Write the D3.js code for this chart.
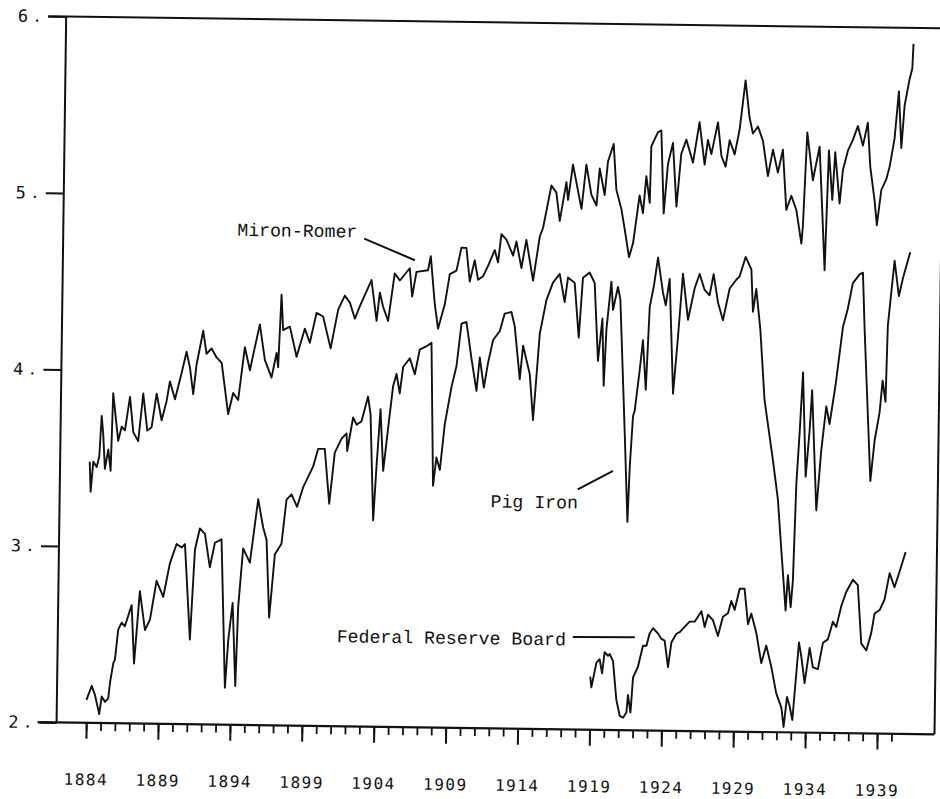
<!DOCTYPE html>
<html>
<head>
<meta charset="utf-8">
<script src="https://cdn.jsdelivr.net/npm/d3@7"></script>
<style>
  html, body { margin: 0; padding: 0; background: #fff; }
  svg { display: block; }
</style>
</head>
<body>
<div id="chart"></div>
<script>
// Log levels of three industrial production series
// (each point is [year, log level])
const mironRomer = [
  [1884.00,3.48],[1884.09,3.31],[1884.25,3.48],[1884.49,3.45],[1884.66,3.51],[1884.79,3.74],[1884.91,3.64],[1885.06,3.44],
  [1885.28,3.55],[1885.46,3.43],[1885.57,3.87],[1885.96,3.60],[1886.19,3.68],[1886.42,3.66],[1886.74,3.85],[1887.00,3.65],
  [1887.35,3.60],[1887.66,3.87],[1887.97,3.66],[1888.27,3.68],[1888.59,3.87],[1888.96,3.72],[1889.29,3.83],[1889.50,3.94],
  [1889.87,3.84],[1890.31,3.99],[1890.63,4.11],[1890.88,4.02],[1891.13,3.87],[1891.34,4.04],[1891.77,4.23],[1892.02,4.10],
  [1892.37,4.13],[1892.72,4.08],[1893.08,4.05],[1893.58,3.76],[1893.91,3.88],[1894.26,3.84],[1894.68,4.14],[1895.05,4.01],
  [1895.37,4.14],[1895.70,4.27],[1896.08,4.07],[1896.56,3.97],[1896.89,4.11],[1897.01,4.03],[1897.18,4.44],[1897.32,4.24],
  [1897.79,4.26],[1898.28,4.09],[1898.83,4.25],[1899.19,4.17],[1899.63,4.34],[1900.09,4.32],[1900.64,4.14],[1901.13,4.36],
  [1901.58,4.44],[1901.94,4.40],[1902.30,4.31],[1902.63,4.38],[1903.42,4.53],[1903.81,4.30],[1904.01,4.46],[1904.25,4.38],
  [1904.61,4.30],[1905.03,4.57],[1905.39,4.53],[1906.07,4.60],[1906.26,4.44],[1906.54,4.58],[1907.34,4.59],[1907.52,4.67],
  [1907.84,4.40],[1908.09,4.26],[1908.54,4.40],[1908.86,4.57],[1909.32,4.59],[1909.64,4.72],[1909.99,4.72],[1910.25,4.53],
  [1910.58,4.65],[1910.83,4.54],[1911.17,4.56],[1911.51,4.62],[1911.96,4.71],[1912.20,4.64],[1912.41,4.80],[1912.76,4.77],
  [1913.24,4.68],[1913.46,4.76],[1913.83,4.61],[1914.15,4.77],[1914.65,4.54],[1915.08,4.79],[1915.30,4.84],[1915.84,5.08],
  [1916.19,5.04],[1916.45,4.88],[1916.88,5.10],[1917.01,5.00],[1917.32,5.20],[1917.95,4.95],[1918.25,5.20],[1918.63,5.03],
  [1918.99,4.97],[1919.18,5.18],[1919.55,5.03],[1919.75,5.22],[1920.13,5.32],[1920.36,5.06],[1920.73,4.95],[1920.97,4.84],
  [1921.30,4.68],[1921.57,4.76],[1921.98,5.03],[1922.23,4.93],[1922.43,5.14],[1922.69,4.99],[1922.75,5.31],[1923.20,5.39],
  [1923.43,5.40],[1923.67,4.93],[1923.92,5.21],[1924.25,5.33],[1924.55,4.97],[1924.84,5.27],[1925.18,5.35],[1925.66,5.22],
  [1926.08,5.45],[1926.47,5.21],[1926.68,5.35],[1926.93,5.27],[1927.36,5.45],[1927.63,5.26],[1927.93,5.20],[1928.19,5.35],
  [1928.55,5.27],[1928.87,5.41],[1929.24,5.69],[1929.55,5.48],[1929.80,5.39],[1930.14,5.43],[1930.50,5.35],[1930.88,5.15],
  [1931.21,5.30],[1931.57,5.17],[1931.90,5.30],[1932.19,4.96],[1932.53,5.04],[1932.89,4.96],[1933.27,4.77],[1933.36,4.87],
  [1933.58,5.40],[1934.01,5.13],[1934.45,5.32],[1934.69,4.96],[1934.91,4.62],[1935.10,5.30],[1935.38,5.02],[1935.54,5.29],
  [1935.89,5.00],[1936.09,5.19],[1936.42,5.30],[1936.75,5.36],[1937.09,5.44],[1937.46,5.33],[1937.78,5.46],[1937.99,5.21],
  [1938.32,5.02],[1938.50,4.88],[1938.78,5.08],[1939.11,5.14],[1939.33,5.21],[1939.65,5.37],[1939.91,5.64],[1940.13,5.32],
  [1940.32,5.56],[1940.64,5.71],[1940.82,5.77],[1940.88,5.91]
];

const pigIron = [
  [1884.00,2.13],[1884.35,2.21],[1884.58,2.16],[1884.90,2.05],[1885.05,2.15],[1885.29,2.12],[1885.51,2.14],[1885.62,2.23],
  [1885.83,2.34],[1885.94,2.36],[1886.14,2.53],[1886.37,2.57],[1886.60,2.55],[1887.05,2.67],[1887.27,2.34],[1887.61,2.75],
  [1888.00,2.53],[1888.34,2.59],[1888.76,2.81],[1889.24,2.72],[1889.67,2.91],[1890.12,3.02],[1890.47,3.00],[1890.70,3.02],
  [1891.13,2.48],[1891.40,2.99],[1891.72,3.11],[1892.08,3.08],[1892.45,2.89],[1892.78,3.03],[1893.24,3.05],[1893.61,2.21],
  [1893.80,2.48],[1894.07,2.69],[1894.33,2.22],[1894.46,2.67],[1894.75,3.00],[1895.23,2.92],[1895.75,3.28],[1896.12,3.12],
  [1896.37,3.05],[1896.62,2.61],[1896.96,2.97],[1897.41,3.03],[1897.72,3.28],[1898.06,3.31],[1898.46,3.24],[1898.86,3.35],
  [1899.54,3.47],[1899.87,3.57],[1900.33,3.57],[1900.69,3.26],[1901.03,3.55],[1901.49,3.63],[1901.83,3.66],[1901.89,3.56],
  [1902.27,3.75],[1902.52,3.71],[1902.86,3.73],[1903.29,3.87],[1903.48,3.77],[1903.76,3.17],[1903.94,3.47],[1904.17,3.80],
  [1904.41,3.45],[1904.71,3.69],[1905.02,3.93],[1905.25,4.00],[1905.49,3.89],[1905.70,4.04],[1906.16,4.09],[1906.52,4.00],
  [1906.84,4.14],[1907.31,4.16],[1907.65,4.18],[1907.89,3.37],[1908.10,3.53],[1908.35,3.46],[1908.65,3.72],[1909.08,3.93],
  [1909.41,4.05],[1909.72,4.29],[1910.06,4.30],[1910.45,4.09],[1910.82,3.91],[1911.02,4.10],[1911.33,3.93],[1911.60,4.07],
  [1911.93,4.20],[1912.38,4.25],[1912.71,4.35],[1913.18,4.36],[1913.42,4.28],[1913.82,3.98],[1914.02,4.17],[1914.51,4.01],
  [1914.78,3.75],[1915.17,4.24],[1915.60,4.43],[1916.04,4.53],[1916.50,4.58],[1916.87,4.42],[1917.08,4.56],[1917.55,4.53],
  [1917.88,4.22],[1918.12,4.56],[1918.58,4.59],[1918.94,4.53],[1919.24,4.09],[1919.51,4.33],[1919.66,3.95],[1919.80,4.27],
  [1920.10,4.54],[1920.24,4.38],[1920.56,4.51],[1920.74,4.44],[1921.16,3.70],[1921.44,3.18],[1921.55,3.49],[1921.73,3.78],
  [1921.84,3.81],[1922.15,4.04],[1922.35,4.21],[1922.59,3.93],[1922.79,4.40],[1923.06,4.52],[1923.32,4.68],[1923.70,4.48],
  [1923.90,4.41],[1924.15,4.56],[1924.49,3.91],[1924.78,4.23],[1925.07,4.59],[1925.46,4.33],[1925.90,4.51],[1926.23,4.59],
  [1926.59,4.50],[1926.94,4.47],[1927.20,4.59],[1927.53,4.43],[1927.89,4.33],[1928.33,4.51],[1928.78,4.56],[1929.01,4.58],
  [1929.41,4.69],[1929.82,4.62],[1929.97,4.38],[1930.18,4.51],[1930.50,4.28],[1930.86,3.88],[1931.50,3.54],[1931.88,3.32],
  [1932.17,3.03],[1932.52,2.69],[1932.65,2.89],[1932.87,2.71],[1933.00,2.86],[1933.15,3.41],[1933.33,3.70],[1933.51,4.04],
  [1933.79,3.45],[1934.02,3.71],[1934.16,3.94],[1934.56,3.26],[1934.85,3.60],[1935.16,3.85],[1935.40,3.75],[1935.78,3.97],
  [1936.24,4.30],[1936.55,4.40],[1936.89,4.55],[1937.35,4.60],[1937.58,4.61],[1937.75,4.29],[1938.29,3.43],[1938.55,3.66],
  [1938.87,3.82],[1939.05,4.00],[1939.27,3.88],[1939.36,4.31],[1939.77,4.68],[1940.10,4.48],[1940.36,4.58],[1940.85,4.73]
];

const fedReserve = [
  [1919.00,2.30],[1919.09,2.24],[1919.42,2.38],[1919.64,2.40],[1919.82,2.32],[1919.98,2.44],[1920.22,2.42],[1920.33,2.43],
  [1920.57,2.39],[1920.84,2.17],[1921.09,2.08],[1921.32,2.07],[1921.55,2.10],[1921.64,2.20],[1921.83,2.10],[1921.98,2.30],
  [1922.31,2.36],[1922.64,2.48],[1922.88,2.48],[1923.09,2.55],[1923.32,2.58],[1923.67,2.55],[1923.91,2.52],[1924.14,2.51],
  [1924.40,2.36],[1924.61,2.50],[1924.95,2.55],[1925.18,2.56],[1925.52,2.59],[1925.86,2.62],[1926.21,2.62],[1926.67,2.68],
  [1926.91,2.59],[1927.13,2.66],[1927.48,2.63],[1927.84,2.54],[1928.17,2.65],[1928.52,2.67],[1928.74,2.74],[1928.98,2.69],
  [1929.31,2.81],[1929.65,2.81],[1929.92,2.61],[1930.14,2.67],[1930.51,2.56],[1930.88,2.39],[1931.21,2.49],[1931.58,2.37],
  [1931.95,2.22],[1932.32,2.14],[1932.49,2.03],[1932.70,2.20],[1932.89,2.15],[1933.09,2.07],[1933.33,2.34],[1933.48,2.51],
  [1933.66,2.43],[1933.91,2.28],[1934.23,2.48],[1934.47,2.37],[1934.82,2.36],[1935.15,2.51],[1935.49,2.53],[1935.82,2.63],
  [1936.06,2.60],[1936.39,2.72],[1936.72,2.80],[1937.17,2.87],[1937.52,2.84],[1937.81,2.51],[1938.17,2.47],[1938.50,2.57],
  [1938.71,2.68],[1939.06,2.70],[1939.39,2.76],[1939.72,2.91],[1940.07,2.83],[1940.41,2.92],[1940.81,3.03]
];

// Axis ticks and labels
const yearTicks = d3.range(1884, 1941);
const labelYears = d3.range(1884, 1940, 5);
const levelTicks = [2, 3, 4, 5, 6];

// Series labels with their leader lines
const seriesLabels = [
  { text: "Miron-Romer", x: 235, y: 239, line: [362, 240, 413, 261] },
  { text: "Pig Iron", x: 492, y: 507, line: [579, 488, 614, 469] },
  { text: "Federal Reserve Board", x: 340, y: 644, line: [576, 635.5, 638, 635] }
];

const width = 940, height = 799;
const plotLeft = 61, plotRight = 939;

const svg = d3.select("#chart")
  .append("svg")
  .attr("width", width)
  .attr("height", height);

svg.append("rect").attr("width", width).attr("height", height).attr("fill", "#fff");

// the scanned page sits slightly tilted, clockwise
const g = svg.append("g").attr("transform", "rotate(0.78, 470, 400)");

const xScale = d3.scaleLinear().domain([1884, 1939]).range([90.6, 881.6]);
const yScale = d3.scaleLinear().domain([2, 6]).range([728, 22]);

const ink = "#111";

// Frame
const plotTop = yScale(6), plotBottom = yScale(2);
g.append("line").attr("x1", 43).attr("x2", 950).attr("y1", plotTop).attr("y2", plotTop)
  .attr("stroke", ink).attr("stroke-width", 2);
g.append("line").attr("x1", 42).attr("x2", plotRight).attr("y1", plotBottom).attr("y2", plotBottom)
  .attr("stroke", ink).attr("stroke-width", 2.2);
g.append("line").attr("x1", plotLeft).attr("x2", plotLeft).attr("y1", plotTop).attr("y2", plotBottom)
  .attr("stroke", ink).attr("stroke-width", 2);
g.append("line").attr("x1", plotRight).attr("x2", plotRight).attr("y1", plotTop).attr("y2", plotBottom)
  .attr("stroke", ink).attr("stroke-width", 2);

// x axis: minor ticks every year, major every five with labels
const minorAxis = g.append("g")
  .attr("transform", `translate(0,${plotBottom})`)
  .call(d3.axisBottom(xScale).tickValues(yearTicks).tickSize(8).tickFormat(""));
minorAxis.select(".domain").remove();
minorAxis.selectAll("line").attr("stroke", ink).attr("stroke-width", 1.8);

const majorAxis = g.append("g")
  .attr("transform", `translate(0,${plotBottom})`)
  .call(d3.axisBottom(xScale).tickValues(labelYears).tickSize(16).tickPadding(35).tickFormat(d3.format("d")));
majorAxis.select(".domain").remove();
majorAxis.selectAll("line").attr("stroke", ink).attr("stroke-width", 2);
majorAxis.selectAll("text")
  .attr("fill", ink)
  .attr("font-family", "DejaVu Sans Mono, monospace")
  .attr("font-size", 16)
  .attr("letter-spacing", 1.5);

// y axis: ticks to the left with "n ." labels
const yAxis = g.append("g")
  .attr("transform", `translate(${plotLeft},0)`)
  .call(d3.axisLeft(yScale).tickValues(levelTicks).tickSize(18).tickPadding(20).tickFormat(d3.format("d")));
yAxis.select(".domain").remove();
yAxis.selectAll("line").attr("stroke", ink).attr("stroke-width", 2);
yAxis.selectAll("text")
  .attr("fill", ink)
  .attr("font-family", "DejaVu Sans Mono, monospace")
  .attr("font-size", 17);
yAxis.selectAll(".tick").append("text")
  .attr("x", -29)
  .attr("dy", "0.32em")
  .attr("text-anchor", "middle")
  .attr("fill", ink)
  .attr("font-family", "DejaVu Sans Mono, monospace")
  .attr("font-size", 16)
  .text(".");

// Series lines
const line = d3.line()
  .x(d => xScale(d[0]))
  .y(d => yScale(d[1]));

[mironRomer, pigIron, fedReserve].forEach(series => {
  g.append("path")
    .datum(series)
    .attr("d", line)
    .attr("fill", "none")
    .attr("stroke", ink)
    .attr("stroke-width", 1.9)
    .attr("stroke-linejoin", "round");
});

// Labels and leader lines
seriesLabels.forEach(lab => {
  g.append("text")
    .attr("x", lab.x)
    .attr("y", lab.y)
    .attr("fill", ink)
    .attr("font-family", "Liberation Mono, monospace")
    .attr("font-size", 18.2)
    .text(lab.text);
  g.append("line")
    .attr("x1", lab.line[0]).attr("y1", lab.line[1])
    .attr("x2", lab.line[2]).attr("y2", lab.line[3])
    .attr("stroke", ink)
    .attr("stroke-width", 2);
});
</script>
</body>
</html>
